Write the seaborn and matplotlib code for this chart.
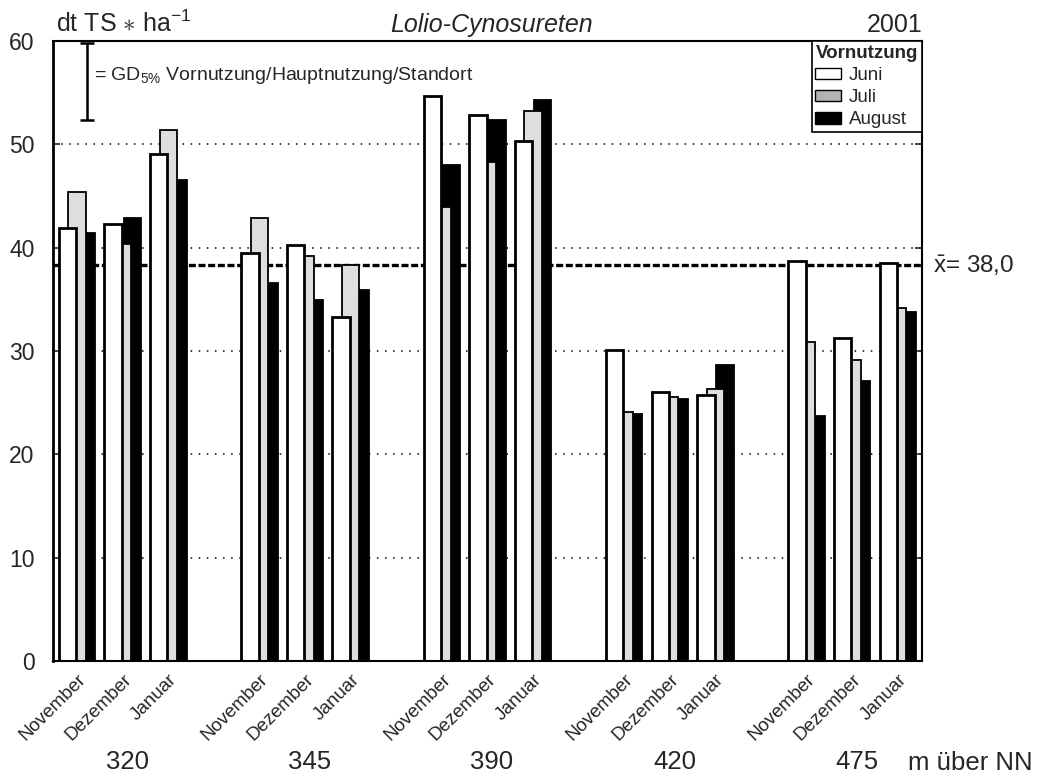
import numpy as np
import pandas as pd
import matplotlib
matplotlib.use("Agg")
import matplotlib.pyplot as plt
import matplotlib.transforms as mtransforms
from matplotlib.patches import Patch
import seaborn as sns

# Daten, je Standort: [November, Dezember, Januar]
standorte = ["320", "345", "390", "420", "475"]
monate = ["November", "Dezember", "Januar"]
vornutzung = ["Juni", "Juli", "August"]

juni = [[41.9, 42.3, 49.1], [39.5, 40.3, 33.3], [54.7, 52.8, 50.3], [30.1, 26.0, 25.7], [38.7, 31.3, 38.5]]
juli = [[45.4, 40.4, 51.4], [42.9, 39.2, 38.3], [43.9, 48.3, 53.2], [24.1, 25.5, 26.3], [30.9, 29.1, 34.2]]
august = [[41.4, 42.9, 46.5], [36.6, 34.9, 35.9], [48.0, 52.4, 54.3], [23.9, 25.4, 28.6], [23.7, 27.1, 33.8]]

gd5 = 7.4
mittel_text = "38,0"

farben = {"Juni": "white", "Juli": "#dedede", "August": "black"}
legende_farben = {"Juni": "white", "Juli": "#b3b3b3", "August": "black"}

# Tabelle bauen, Balken leicht ueberlappend versetzt
versatz = {"Juni": -0.21, "Juli": 0.0, "August": 0.21}
werte = {"Juni": juni, "Juli": juli, "August": august}
rows = []
for i, s in enumerate(standorte):
    for j, m in enumerate(monate):
        for v in vornutzung:
            rows.append({"standort": s, "monat": m, "vornutzung": v,
                         "pos": round(4 * i + j + versatz[v], 2),
                         "ertrag": werte[v][i][j]})
df = pd.DataFrame(rows)

sns.set_style("ticks")
plt.rcParams["font.family"] = ["Liberation Sans", "DejaVu Sans"]
plt.rcParams["mathtext.fontset"] = "custom"
plt.rcParams["mathtext.rm"] = "Liberation Sans"
plt.rcParams["mathtext.it"] = "Liberation Sans:italic"
plt.rcParams["mathtext.bf"] = "Liberation Sans:bold"

fig = plt.figure(figsize=(10.46, 7.76), dpi=100)
ax = fig.add_axes([52.5 / 1046, 1 - 661 / 776, 869 / 1046, 620 / 776])

# August zuerst zeichnen, damit Juni vorne liegt
sns.barplot(data=df, x="pos", y="ertrag", hue="vornutzung",
            hue_order=["August", "Juli", "Juni"], palette=farben,
            native_scale=True, dodge=False, width=0.38 / 0.21,
            errorbar=None, edgecolor="black", linewidth=1.3,
            legend=False, ax=ax)
for p in ax.patches:
    if p.get_facecolor()[0] > 0.99:
        p.set_linewidth(2.0)

mittel = df["ertrag"].mean()
ax.axhline(mittel, color="black", lw=2.4, ls=(0, (2.1, 0.8)), zorder=0.8)

ax.set_xlim(-0.54, 18.52)
ax.set_ylim(0, 60)
ax.set_yticks(range(0, 61, 10))
ax.set_axisbelow(True)
ax.yaxis.grid(True, color="black", lw=1.1, ls=(0, (1, 4.3)))
ax.xaxis.grid(False)

tick_pos = [4 * i + j for i in range(len(standorte)) for j in range(len(monate))]
ax.set_xticks(tick_pos)
ax.set_xticklabels(monate * len(standorte), rotation=45, ha="right",
                   va="top", rotation_mode="anchor")
ax.tick_params(axis="x", length=0, labelsize=13.5, pad=7)
ax.tick_params(axis="y", labelsize=16.5, direction="in", length=5, width=1.2,
               pad=13, left=True, right=True)
ax.set_xlabel("")
ax.set_ylabel("")
for side in ["top", "right", "bottom"]:
    ax.spines[side].set_linewidth(1.5)
    ax.spines[side].set_color("black")
ax.spines["left"].set_linewidth(2.0)
ax.spines["left"].set_color("black")

# Standort-Beschriftung
for i, s in enumerate(standorte):
    ax.text(4 * i + 1.1, -0.174, s, transform=ax.get_xaxis_transform(),
            ha="center", va="baseline", fontsize=18.5)
fig.text(908 / 1046, 1 - 770 / 776, "m über NN", ha="left", va="baseline",
         fontsize=18.5)

# Kopfzeile
fig.text(56 / 1046, 1 - 32 / 776, r"dt TS $\ast$ ha$^{-1}$", ha="left",
         va="baseline", fontsize=18)
fig.text(492 / 1046, 1 - 32 / 776, "Lolio-Cynosureten", ha="center",
         va="baseline", fontsize=18, style="italic")
fig.text(923 / 1046, 1 - 32 / 776, "2001", ha="right", va="baseline",
         fontsize=18)

# Grenzdifferenz
ax.errorbar(0.22, 59.8 - gd5 / 2, yerr=gd5 / 2, color="black", elinewidth=1.8,
            capsize=5, capthick=1.8, clip_on=False, zorder=5)
ax.text(0.048, 0.937, r"= GD$_{5\%}$ Vornutzung/Hauptnutzung/Standort",
        transform=ax.transAxes, ha="left", va="baseline", fontsize=14)

# Mittelwert
trans = mtransforms.blended_transform_factory(ax.transAxes, ax.transData)
ax.text(1.013, mittel, r"$\bar{\mathrm{x}}$= " + mittel_text, transform=trans,
        ha="left", va="center", fontsize=17.5)

# Legende
handles = [Patch(facecolor=legende_farben[v], edgecolor="black", lw=1.0, label=v)
           for v in vornutzung]
leg = ax.legend(handles=handles, title="Vornutzung", loc="upper right",
                bbox_to_anchor=(1, 1), borderaxespad=0, fontsize=13.5,
                title_fontproperties={"weight": "bold", "size": 13.5},
                alignment="left", frameon=True, fancybox=False,
                edgecolor="black", framealpha=1, handlelength=1.35,
                handleheight=0.55, handletextpad=0.45, labelspacing=0.28,
                borderpad=0.2)
leg.get_frame().set_linewidth(1.2)

fig.savefig("out.png", dpi=100)
